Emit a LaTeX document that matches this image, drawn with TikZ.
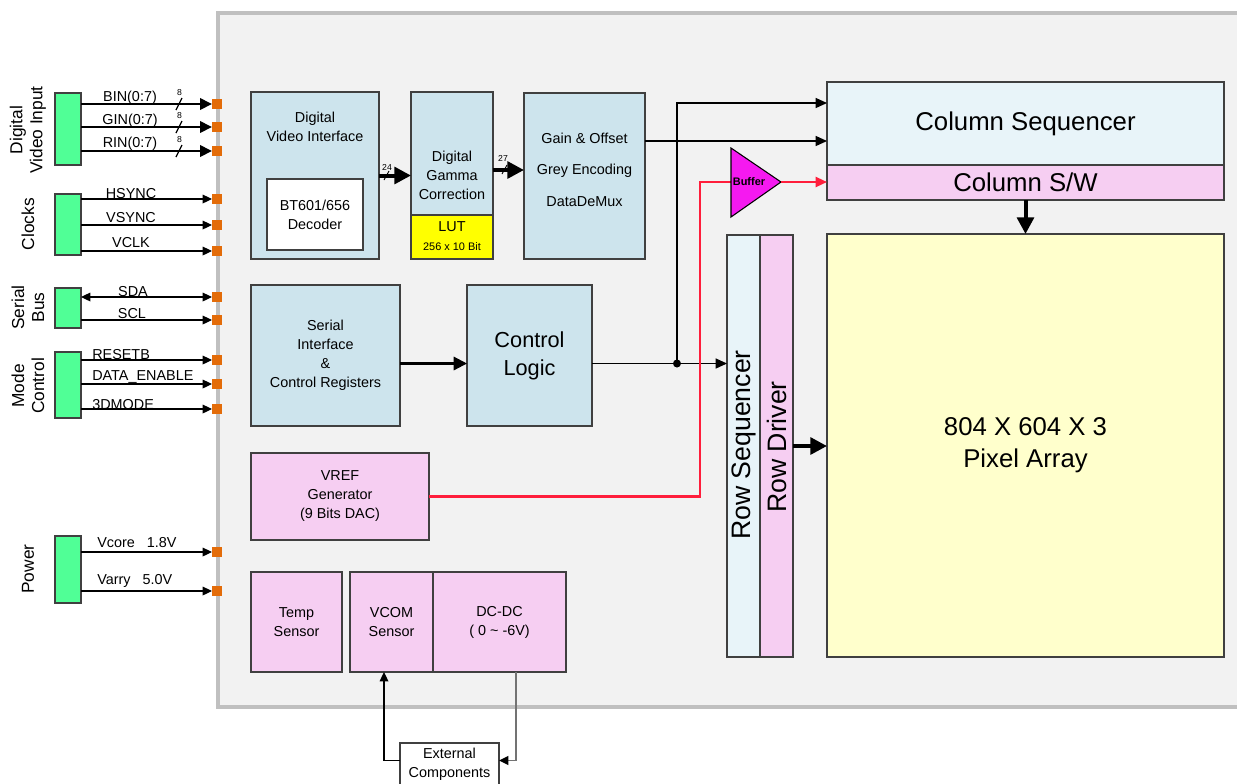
\documentclass[tikz,border=0pt]{standalone}
\usepackage{fontspec}
\setmainfont{Liberation Sans}
\usetikzlibrary{arrows.meta}
\definecolor{chipgray}{RGB}{242,242,242}
\definecolor{chipedge}{RGB}{192,192,192}
\definecolor{blkblue}{RGB}{205,228,237}
\definecolor{seqblue}{RGB}{232,244,249}
\definecolor{blkpink}{RGB}{246,206,242}
\definecolor{pixyellow}{RGB}{255,255,204}
\definecolor{lutyellow}{RGB}{255,255,0}
\definecolor{pingreen}{RGB}{80,255,150}
\definecolor{pinorange}{RGB}{227,108,9}
\definecolor{bufmag}{RGB}{245,25,240}
\definecolor{vrefred}{RGB}{255,30,60}
\begin{document}
\begin{tikzpicture}[x=0.75pt, y=-0.75pt,
  sz/.style 2 args={minimum width=#1*0.75pt, minimum height=#2*0.75pt},
  blk/.style={draw=black!75, line width=0.9pt, inner sep=0pt, outer sep=0pt, align=center, font=\fontsize{10.8}{14.25}\selectfont},
  txt/.style={inner sep=0pt, align=center, font=\fontsize{10.8}{14.25}\selectfont},
  bigtxt/.style={font=\fontsize{19.3}{24}\selectfont},
  pin/.style={fill=pinorange, minimum size=7.5pt, inner sep=0pt, outer sep=0pt},
  grp/.style={draw=black!75, fill=pingreen, line width=0.9pt, inner sep=0pt, outer sep=0pt},
  grplbl/.style={rotate=90, align=center, inner sep=0pt, font=\fontsize{13}{15}\selectfont},
  pinlbl/.style={anchor=base, inner sep=0pt, font=\fontsize{10.8}{13}\selectfont},
  tick/.style={inner sep=0pt, font=\fontsize{6.5}{7}\selectfont},
  bus/.style={line width=2pt, -{Triangle[length=9pt,width=8.5pt]}},
  sig/.style={line width=0.9pt, -{Triangle[length=7pt,width=6.5pt]}},
  ctl/.style={line width=1pt, -{Triangle[length=8.5pt,width=7.5pt]}},
  mid/.style={line width=1.6pt, -{Triangle[length=10pt,width=10pt]}},
  fat/.style={line width=3pt, -{Triangle[length=12.5pt,width=12.5pt]}},
  redln/.style={line width=1.6pt, draw=vrefred}]
  \fill[white] (0,0) rectangle (1237,783);
  \useasboundingbox (0,0) rectangle (1237,783);
  \draw[line width=3pt, draw=chipedge, fill=chipgray] (218,13) rectangle (1260,707);

  \node[grp, sz={26}{72}] (vin) at (68,129) {};
  \node[grp, sz={26}{61}] (clk) at (68,224.5) {};
  \node[grp, sz={26}{40}] (sbus) at (68,308) {};
  \node[grp, sz={26}{66}] (mode) at (68,385) {};
  \node[grp, sz={26}{67}] (pwr) at (68,569.5) {};
  \node[grplbl] (vinlbl) at (28,130) {Digital\\Video Input};
  \node[grplbl] (clklbl) at (28,224) {Clocks};
  \node[grplbl] (sbuslbl) at (28,307.5) {Serial\\Bus};
  \node[grplbl] (modelbl) at (28,386) {Mode\\Control};
  \node[grplbl] (pwrlbl) at (28,569) {Power};

  \node[pin] (binpin) at (217,104) {};
  \node[pin] (ginpin) at (217,127) {};
  \node[pin] (rinpin) at (217,151) {};
  \node[pin] (hspin) at (217,199) {};
  \node[pin] (vspin) at (217,225) {};
  \node[pin] (clkpin) at (217,251) {};
  \node[pin] (sdapin) at (217,297) {};
  \node[pin] (sclpin) at (217,320) {};
  \node[pin] (rstpin) at (217,360) {};
  \node[pin] (enpin) at (217,384) {};
  \node[pin] (modepin) at (217,409) {};
  \node[pin] (vcpin) at (217,552) {};
  \node[pin] (vapin) at (217,591) {};

  \draw[bus] (vin.east |- binpin) -- (binpin.west);
  \draw[bus] (vin.east |- ginpin) -- (ginpin.west);
  \draw[bus] (vin.east |- rinpin) -- (rinpin.west);
  \draw[line width=0.9pt] (176,110) -- (182,98);
  \draw[line width=0.9pt] (176,133) -- (182,121);
  \draw[line width=0.9pt] (176,157) -- (182,145);
  \node[tick] (bin8) at (179.5,93) {8};
  \node[tick] (gin8) at (179.5,115.5) {8};
  \node[tick] (rin8) at (179.5,140) {8};
  \node[pinlbl] (binlbl) at (130,101.7) {BIN(0:7)};
  \node[pinlbl] (ginlbl) at (130,124.3) {GIN(0:7)};
  \node[pinlbl] (rinlbl) at (130,147.7) {RIN(0:7)};

  \draw[sig] (clk.east |- hspin) -- (hspin.west);
  \draw[sig] (clk.east |- vspin) -- (vspin.west);
  \draw[sig] (clk.east |- clkpin) -- (clkpin.west);
  \node[pinlbl] (hslbl) at (131,198.3) {HSYNC};
  \node[pinlbl] (vslbl) at (131,222.7) {VSYNC};
  \node[pinlbl] (clklbl2) at (131,247.7) {VCLK};

  \draw[sig, {Triangle[length=7pt,width=6.5pt]}-{Triangle[length=7pt,width=6.5pt]}] (sbus.east |- sdapin) -- (sdapin.west);
  \draw[sig] (sbus.east |- sclpin) -- (sclpin.west);
  \node[pinlbl] (sdalbl) at (133,296.7) {SDA};
  \node[pinlbl] (scllbl) at (132,318.3) {SCL};

  \draw[sig] (mode.east |- rstpin) -- (rstpin.west);
  \draw[sig] (mode.east |- enpin) -- (enpin.west);
  \draw[sig] (mode.east |- modepin) -- (modepin.west);
  \node[pinlbl, anchor=base west] (rstlbl) at (92,359.3) {RESETB};
  \node[pinlbl, anchor=base west] (enlbl) at (92,380.7) {DATA\_ENABLE};
  \node[pinlbl, anchor=base west] (modelbl2) at (92,409.5) {3DMODE};

  \draw[sig] (pwr.east |- vcpin) -- (vcpin.west);
  \draw[sig] (pwr.east |- vapin) -- (vapin.west);
  \node[pinlbl, anchor=base west] (vclbl) at (97,547.3) {Vcore~~~1.8V};
  \node[pinlbl, anchor=base west] (valbl) at (97,584.3) {Varry~~~5.0V};

  \node[blk, fill=blkblue, sz={128}{167}] (dvi) at (315,175.5) {};
  \node[txt] (dvitxt) at (315,126.5) {Digital\\Video Interface};
  \node[blk, fill=white, sz={96}{71}] (bt) at (315,214.5) {BT601/656\\Decoder};
  \node[blk, fill=blkblue, sz={82}{123}] (gam) at (452,153.5) {};
  \node[txt] (gamtxt) at (452,175) {Digital\\Gamma\\Correction};
  \node[blk, fill=lutyellow, sz={82}{44}] (lut) at (452,237) {};
  \node[txt] (luttxt) at (452,227) {LUT};
  \node[txt, font=\fontsize{8.2}{9}\selectfont] (lutbits) at (452,247) {256 x 10 Bit};
  \node[blk, fill=blkblue, sz={121}{166}] (gain) at (584.5,176) {};
  \node[txt] (gaintxt) at (584.5,169.5) {Gain \& Offset\\[9.4pt]Grey Encoding\\[9.4pt]DataDeMux};

  \node[blk, fill=blkblue, sz={149}{141}] (ser) at (325.5,355.5) {Serial\\Interface\\\&\\Control Registers};
  \node[blk, fill=blkblue, sz={125}{141}, font=\fontsize{16.3}{21}\selectfont] (ctrl) at (529.5,355.5) {Control\\Logic};
  \node[blk, fill=blkpink, sz={178}{87}] (vref) at (340,496.5) {VREF\\Generator\\(9 Bits DAC)};
  \node[blk, fill=blkpink, sz={91}{100}] (temp) at (296.5,622) {Temp\\Sensor};
  \node[blk, fill=blkpink, sz={83}{100}] (vcom) at (391.5,622) {VCOM\\Sensor};
  \node[blk, fill=blkpink, sz={133}{100}] (dcdc) at (499.5,622) {DC-DC\\( 0 \char`~{} -6V)};
  \node[blk, fill=white, sz={99}{43}] (ext) at (449.5,764.5) {External\\Components};

  \node[blk, fill=seqblue, sz={397}{83}, bigtxt] (colseq) at (1025.5,123.5) {Column Sequencer};
  \node[blk, fill=blkpink, sz={397}{35}, bigtxt] (colsw) at (1025.5,182.5) {Column S/W};
  \node[blk, fill=pixyellow, sz={397}{423}, bigtxt] (pix) at (1025.5,445.5) {804 X 604 X 3\\Pixel Array};
  \node[blk, fill=seqblue, sz={33}{422}] (rowseq) at (743.5,446) {};
  \node[blk, fill=blkpink, sz={33}{422}] (rowdrv) at (776.5,446) {};
  \node[rotate=90, inner sep=0pt, font=\fontsize{20}{24}\selectfont] (rowseqtxt) at (743.5,445) {Row Sequencer};
  \node[rotate=90, inner sep=0pt, font=\fontsize{20}{24}\selectfont] (rowdrvtxt) at (777,447) {Row Driver};

  \draw[fat] (dvi.east) -- (dvi.east -| gam.west);
  \draw[line width=0.7pt] (384,180) -- (389,171);
  \node[tick] (w24) at (387,167) {24};
  \coordinate (gamout) at (493,170);
  \draw[fat] (gamout) -- (gamout -| gain.west);
  \draw[line width=0.7pt] (502,174) -- (507,165);
  \node[tick] (w27) at (503,158) {27};

  \coordinate (gainout) at (645,141);
  \draw[ctl] (gainout) -- (gainout -| colseq.west);
  \coordinate (jn) at (677,363.5);
  \coordinate (jtop) at (677,103);
  \draw[mid] (ser.east |- jn) -- (ctrl.west |- jn);
  \draw[ctl] (ctrl.east |- jn) -- (jn -| rowseq.west);
  \draw[ctl] (jn) -- (jtop) -- (jtop -| colseq.west);
  \fill (jn) circle (3pt);

  \coordinate (rbend) at (700,182);
  \coordinate (bufin) at (731,182);
  \coordinate (bufout) at (781,182);
  \draw[redln] (vref.east) -| (rbend) -- (bufin);
  \filldraw[fill=bufmag, draw=black, line width=0.8pt] (731,148) -- (bufout) -- (731,217) -- cycle;
  \node[inner sep=0pt, font=\bfseries\fontsize{8.2}{9}\selectfont] (buf) at (749,181.7) {Buffer};
  \draw[redln, -{Triangle[length=8.5pt,width=7.5pt]}] (bufout) -- (bufout -| colsw.west);

  \draw[fat] (colsw.south) -- (pix.north);
  \draw[fat] (rowdrv.east) -- (rowdrv.east -| pix.west);

  \coordinate (dcout) at (516,672);
  \coordinate (vcin) at (384,672);
  \draw[sig, draw=black!55, line width=1.2pt, -{Triangle[length=7pt,width=6.5pt,black]}] (dcout) |- ([yshift=3pt]ext.east);
  \draw[sig] ([yshift=3pt]ext.west) -| (vcin);
\end{tikzpicture}
\end{document}
